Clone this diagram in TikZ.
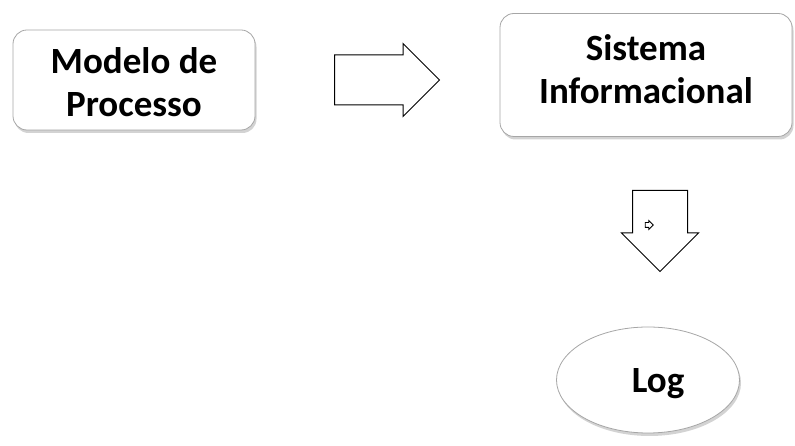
\documentclass[tikz,border=0pt]{standalone}
\usepackage{fontspec}
\setmainfont{Carlito}
\usetikzlibrary{positioning,shapes.geometric,shapes.arrows,shadows}

\tikzset{
  procbox/.style={rectangle, rounded corners=14pt, draw=gray!70, line width=0.8pt, fill=white,
    drop shadow={shadow xshift=1.5pt, shadow yshift=-3pt, opacity=0.35, fill=gray}},
  boxtext/.style={align=center, font=\fontsize{37}{43}\selectfont\bfseries},
  blockarrow/.style={single arrow, draw=black, line width=1pt, fill=white, inner sep=0pt,
    single arrow tip angle=90},
  logellipse/.style={ellipse, draw=gray!70, line width=0.8pt, fill=white,
    drop shadow={shadow xshift=1.5pt, shadow yshift=-3pt, opacity=0.35, fill=gray}},
}

\begin{document}
\begin{tikzpicture}[x=1pt, y=1pt]
\useasboundingbox (0,0) rectangle (795,446);
% top row
\node[procbox, minimum width=242pt, minimum height=100pt] (modelo) at (134,366) {};
\node[boxtext] (modelotext) at ([yshift=-2pt]modelo.center) {Modelo de\\Processo};
\node[procbox, minimum width=292pt, minimum height=123pt] (sistema) at (646,371) {};
\node[boxtext] (sistematext) at ([yshift=6pt]sistema.center) {Sistema\\Informacional};
\node[blockarrow, minimum height=105pt, minimum width=72pt, inner ysep=24.5pt,
      single arrow head extend=11.5pt, anchor=tail] (arrowright) at (334,366) {};
% right column
\node[blockarrow, rotate=-90, minimum height=81pt, minimum width=76pt, inner ysep=27pt,
      single arrow head extend=11pt, anchor=tail] (arrowdown) at (660,256) {};
\node[single arrow, draw=black, line width=0.8pt, inner sep=0pt, inner ysep=2pt,
      minimum height=8pt, minimum width=8pt, single arrow head extend=2pt] (marker) at (648,221) {};
\node[logellipse, minimum width=183pt, minimum height=106pt] (log) at (648,66) {};
\node[boxtext] (logtext) at ([xshift=10pt,yshift=-4pt]log.center) {Log};
\end{tikzpicture}
\end{document}
